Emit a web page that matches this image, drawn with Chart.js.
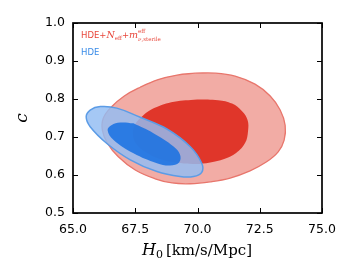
<!DOCTYPE html>
<html><head><meta charset="utf-8">
<script src="https://cdn.jsdelivr.net/npm/chart.js@4"></script>
<style>html,body{margin:0;padding:0;background:#fff}#w{width:351px;height:277px}</style>
</head><body><div id="w"><canvas id="c"></canvas></div>
<script>
const xTicks = [65.0, 67.5, 70.0, 72.5, 75.0];
const yTicks = [0.5, 0.6, 0.7, 0.8, 0.9, 1.0];

// HDE+Neff+m_sterile: 95% and 68% contours
const redOuterH0 = [69.91, 70.71, 71.51, 72.31, 72.92, 73.32, 73.52, 73.48, 73.24, 72.76, 72.11, 71.31, 70.51, 69.71, 68.98, 68.30, 67.50, 66.82, 66.38, 66.18, 66.22, 66.54, 67.06, 67.70, 68.42, 69.18, 69.91];
const redOuterC  = [0.868, 0.868, 0.860, 0.839, 0.808, 0.771, 0.731, 0.692, 0.661, 0.634, 0.611, 0.592, 0.582, 0.577, 0.579, 0.590, 0.613, 0.648, 0.684, 0.718, 0.750, 0.779, 0.808, 0.831, 0.851, 0.863, 0.868];
const redInnerH0 = [69.99, 70.83, 71.39, 71.79, 72.01, 72.03, 71.91, 71.55, 71.07, 70.51, 69.91, 69.22, 68.50, 67.90, 67.54, 67.41, 67.48, 67.74, 68.26, 69.06, 69.99];
const redInnerC  = [0.799, 0.797, 0.788, 0.768, 0.745, 0.716, 0.684, 0.658, 0.642, 0.633, 0.629, 0.632, 0.642, 0.661, 0.682, 0.705, 0.731, 0.752, 0.776, 0.793, 0.799];
// HDE: 95% and 68% contours
const blueOuterH0 = [67.70, 68.77, 69.70, 70.17, 70.17, 69.84, 69.30, 68.37, 67.30, 66.36, 65.69, 65.53, 65.69, 66.10, 66.76, 67.70];
const blueOuterC  = [0.752, 0.721, 0.675, 0.631, 0.607, 0.596, 0.596, 0.609, 0.640, 0.683, 0.727, 0.753, 0.771, 0.780, 0.776, 0.752];
const blueInnerH0 = [67.43, 68.23, 69.04, 69.30, 69.26, 68.90, 68.37, 67.43, 66.63, 66.39, 66.54, 66.90, 67.43];
const blueInnerC  = [0.736, 0.710, 0.675, 0.653, 0.633, 0.625, 0.631, 0.657, 0.692, 0.718, 0.731, 0.738, 0.736];

const pts = (xs, ys) => xs.map((x, i) => ({x: x, y: ys[i]}));

const frame = {
  id: 'frame',
  afterDraw(chart) {
    const ctx = chart.ctx, a = chart.chartArea;
    const xs = chart.scales.x, ys = chart.scales.y;
    ctx.save();
    ctx.strokeStyle = '#000';
    ctx.lineWidth = 1;
    const tl = 5;
    ctx.beginPath();
    xTicks.forEach(v => {
      const p = Math.round(xs.getPixelForValue(v)) + 0.5;
      ctx.moveTo(p, a.bottom); ctx.lineTo(p, a.bottom - tl);
      ctx.moveTo(p, a.top); ctx.lineTo(p, a.top + tl);
    });
    yTicks.forEach(v => {
      const p = Math.round(ys.getPixelForValue(v)) + 0.5;
      ctx.moveTo(a.left, p); ctx.lineTo(a.left + tl, p);
      ctx.moveTo(a.right, p); ctx.lineTo(a.right - tl, p);
    });
    ctx.stroke();
    ctx.lineWidth = 1.7;
    ctx.strokeRect(a.left, a.top, a.right - a.left, a.bottom - a.top);

    // x axis title
    ctx.fillStyle = '#000';
    ctx.textBaseline = 'alphabetic';
    const f1 = 'italic 16px "DejaVu Serif"', f2 = '11px "DejaVu Serif"', f3 = '15px "DejaVu Serif"';
    ctx.font = f1; const wH = ctx.measureText('H').width;
    ctx.font = f2; const w0 = ctx.measureText('0').width;
    ctx.font = f3; const wU = ctx.measureText('[km/s/Mpc]').width;
    const tot = wH + w0 + 3 + wU;
    let x0 = 197 - tot / 2, by = 255;
    ctx.font = f1; ctx.fillText('H', x0, by); x0 += wH;
    ctx.font = f2; ctx.fillText('0', x0, by + 3); x0 += w0 + 3;
    ctx.font = f3; ctx.fillText('[km/s/Mpc]', x0, by);

    // y axis title
    ctx.save();
    ctx.translate(27, 118);
    ctx.rotate(-Math.PI / 2);
    ctx.font = 'italic 17px "DejaVu Serif"';
    ctx.textAlign = 'center';
    ctx.fillText('c', 0, 0);
    ctx.restore();

    // legend texts
    const red = '#e8473b', blue = '#3a8ce8';
    let lx = 81, ly = 38;
    ctx.fillStyle = red;
    const sans = '8.5px "DejaVu Sans"', it = 'italic 9.5px "DejaVu Serif"', sm = '5.5px "DejaVu Serif"', smi = 'italic 5.5px "DejaVu Serif"';
    const put = (t, f, dy) => { ctx.font = f; ctx.fillText(t, lx, ly + (dy || 0)); lx += ctx.measureText(t).width; };
    put('HDE+', sans);
    put('N', it);
    put('eff', sm, 2);
    put('+', sans);
    put('m', it);
    const sx = lx;
    ctx.font = sm; ctx.fillText('eff', sx, ly - 5);
    ctx.font = smi; ctx.fillText('ν', sx, ly + 2.5);
    const wn = ctx.measureText('ν').width;
    ctx.font = sm; ctx.fillText(',sterile', sx + wn, ly + 2.5);
    ctx.fillStyle = blue;
    ctx.font = sans; ctx.fillText('HDE', 81, 55);
    ctx.restore();
  }
};

new Chart(document.getElementById('c'), {
  type: 'scatter',
  data: {
    datasets: [
      {label: 'HDE 68%', data: pts(blueInnerH0, blueInnerC), showLine: true, fill: 'shape', tension: 0.4,
       backgroundColor: 'rgba(22,112,226,0.85)', borderColor: 'rgba(22,112,226,0)', borderWidth: 0, pointRadius: 0},
      {label: 'HDE 95%', data: pts(blueOuterH0, blueOuterC), showLine: true, fill: 'shape', tension: 0.4,
       backgroundColor: 'rgba(147,189,243,0.83)', borderColor: '#5c9ce6', borderWidth: 1.5, pointRadius: 0},
      {label: 'HDE+Neff+m 68%', data: pts(redInnerH0, redInnerC), showLine: true, fill: 'shape', tension: 0.4,
       backgroundColor: '#e0362a', borderColor: '#e0362a', borderWidth: 0, pointRadius: 0},
      {label: 'HDE+Neff+m 95%', data: pts(redOuterH0, redOuterC), showLine: true, fill: 'shape', tension: 0.4,
       backgroundColor: '#f2aca5', borderColor: '#e8766c', borderWidth: 1.3, pointRadius: 0}
    ]
  },
  options: {
    responsive: true, maintainAspectRatio: false, animation: false,
    events: [],
    layout: {padding: {left: 0, right: 29, top: 23, bottom: 0}},
    plugins: {legend: {display: false}, tooltip: {enabled: false}},
    scales: {
      x: {
        type: 'linear', min: 65, max: 75,
        afterBuildTicks: s => { s.ticks = xTicks.map(v => ({value: v})); },
        afterFit: s => { s.height = 64; },
        grid: {display: false, drawTicks: false},
        border: {display: false},
        ticks: {padding: 9, color: '#000', font: {family: 'DejaVu Sans', size: 12.5}, maxRotation: 0,
                callback: v => Number(v).toFixed(1)}
      },
      y: {
        type: 'linear', min: 0.5, max: 1.0,
        afterBuildTicks: s => { s.ticks = yTicks.map(v => ({value: v})); },
        afterFit: s => { s.width = 73; },
        grid: {display: false, drawTicks: false},
        border: {display: false},
        ticks: {padding: 8, color: '#000', font: {family: 'DejaVu Sans', size: 12.5},
                callback: v => Number(v).toFixed(1)}
      }
    }
  },
  plugins: [frame]
});
</script>
</body></html>
